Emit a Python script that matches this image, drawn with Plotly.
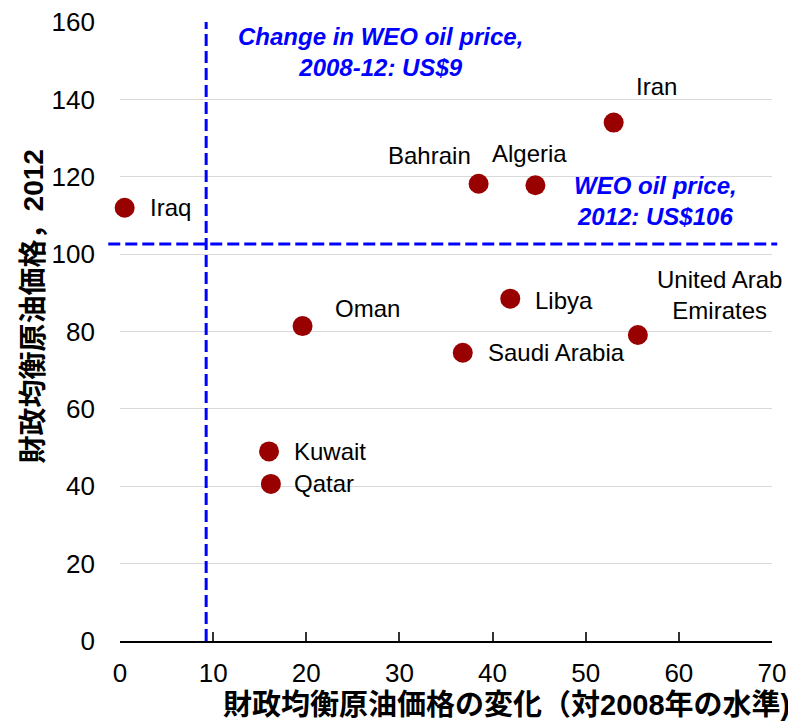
import plotly.graph_objects as go

# ---- data ----
countries = ["Iraq", "Bahrain", "Algeria", "Iran", "Libya",
             "United Arab<br>Emirates", "Saudi Arabia", "Oman", "Kuwait", "Qatar"]
change_since_2008 = [0.5, 38.5, 44.6, 53.0, 41.9, 55.6, 36.8, 19.6, 16.0, 16.2]
breakeven_2012 = [112.0, 118.2, 117.8, 134.0, 88.5, 79.1, 74.5, 81.4, 49.0, 40.6]

weo_change = 9.25
weo_price_2012 = 102.6

x_ticks = [0, 10, 20, 30, 40, 50, 60, 70]
y_ticks = [0, 20, 40, 60, 80, 100, 120, 140, 160]

# label offsets (pixels) and anchors: style only
label_style = {
    "Iraq": (23, 0, "left"),
    "Bahrain": (-6, 28, "right"),
    "Algeria": (-6, 32, "center"),
    "Iran": (20, 36, "left"),
    "Libya": (23, -2, "left"),
    "United Arab<br>Emirates": (82, 40, "center"),
    "Saudi Arabia": (23, 0, "left"),
    "Oman": (30, 18, "left"),
    "Kuwait": (23, 0, "left"),
    "Qatar": (21, 0, "left"),
}

LATIN = "Liberation Sans, Arial, sans-serif"
CJK = "Liberation Sans, Noto Sans CJK JP, sans-serif"
BLUE = "#0000FF"

fig = go.Figure()
fig.add_trace(go.Scatter(
    x=change_since_2008, y=breakeven_2012, mode="markers",
    marker=dict(size=20, color="#990000", line=dict(width=0)),
    hoverinfo="skip", showlegend=False, cliponaxis=False,
))

annotations = []
for name, xv, yv in zip(countries, change_since_2008, breakeven_2012):
    dx, dy, anchor = label_style[name]
    annotations.append(dict(
        x=xv, y=yv, xref="x", yref="y", text=name, showarrow=False,
        xanchor=anchor, yanchor="middle", xshift=dx, yshift=dy,
        align="center", font=dict(family=LATIN, size=24, color="#000000"),
    ))

annotations.append(dict(
    x=28.0, y=152.2, xref="x", yref="y",
    text="<b><i>Change in WEO oil price,<br>2008-12: US$9</i></b>",
    showarrow=False, xanchor="center", yanchor="middle", align="center",
    font=dict(family=LATIN, size=24, color=BLUE),
))
annotations.append(dict(
    x=57.5, y=113.8, xref="x", yref="y",
    text="<b><i>WEO oil price,<br>2012: US$106</i></b>",
    showarrow=False, xanchor="center", yanchor="middle", align="center",
    font=dict(family=LATIN, size=24, color=BLUE),
))
annotations.append(dict(
    x=1.031, y=-0.103, xref="paper", yref="paper",
    text="<b>財政均衡原油価格の変化（対2008年の水準)</b>",
    showarrow=False, xanchor="right", yanchor="middle",
    font=dict(family=CJK, size=29, color="#000000"),
))
annotations.append(dict(
    x=-0.133, y=0.541, xref="paper", yref="paper",
    text="<b>財政均衡原油価格，2012</b>", textangle=-90,
    showarrow=False, xanchor="center", yanchor="middle",
    font=dict(family=CJK, size=28, color="#000000"),
))

shapes = [
    dict(type="line", xref="x", yref="y", x0=weo_change, x1=weo_change,
         y0=0, y1=160, line=dict(color=BLUE, width=3, dash="12px,5px")),
    dict(type="line", xref="paper", yref="y", x0=-0.018, x1=1.008,
         y0=weo_price_2012, y1=weo_price_2012,
         line=dict(color=BLUE, width=3, dash="12px,5px")),
]

fig.update_layout(
    width=788, height=715,
    margin=dict(l=112, r=24, t=14, b=82, autoexpand=False),
    paper_bgcolor="white", plot_bgcolor="white",
    annotations=annotations, shapes=shapes,
    xaxis=dict(
        range=[0, 70], tickvals=x_ticks, ticktext=[str(v) for v in x_ticks],
        showgrid=False, zeroline=False, showline=True, linecolor="#000000",
        linewidth=2, ticks="inside", ticklen=9, tickwidth=1.5, tickcolor="#333333",
        tickfont=dict(family=LATIN, size=26, color="#000000"),
        ticklabelstandoff=8, fixedrange=True, automargin=False,
        ticklabeloverflow="allow",
    ),
    yaxis=dict(
        range=[0, 160.01], tickvals=y_ticks, ticktext=[str(v) for v in y_ticks],
        showgrid=True, gridcolor="#D9D9D9", gridwidth=1, zeroline=False,
        showline=False, ticks="",
        tickfont=dict(family=LATIN, size=26, color="#000000"),
        ticklabelstandoff=24, fixedrange=True, automargin=False,
        ticklabeloverflow="allow",
    ),
)

fig.write_html("out.html")
